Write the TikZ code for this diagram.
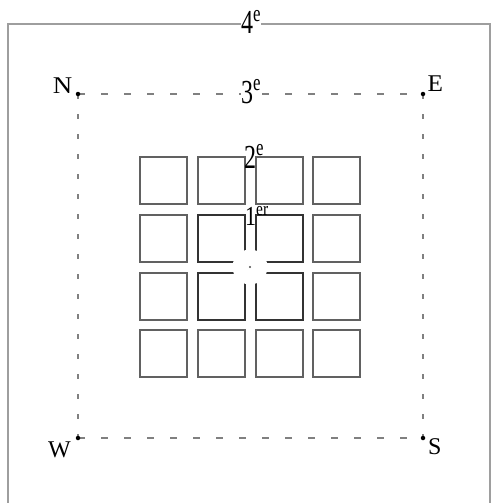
\documentclass[tikz,border=0pt]{standalone}
\usepackage{fontspec}
\setmainfont{Liberation Serif}
\usepackage{graphicx}
\begin{document}
\begin{tikzpicture}[x=1pt,y=-1pt]
\tikzset{
  cell/.style={draw=black!62, line width=1.4pt},
  cellin/.style={draw=black!80, line width=1.4pt},
  frame/.style={draw=black!38, line width=1.4pt},
  hguide/.style={draw=black!50, line width=1.4pt, dash pattern=on 7pt off 16pt},
  vguide/.style={draw=black!50, line width=1.4pt, dash pattern=on 5pt off 15pt},
  pt/.style={circle, fill=black, inner sep=0pt, minimum size=4.5pt},
  ordinal/.style={inner sep=0pt, anchor=base west},
  cornerlbl/.style={inner sep=0pt, font=\fontsize{24}{24}\selectfont}
}
\useasboundingbox (0,0) rectangle (491,503);
\fill[white] (0,0) rectangle (491,503);
% outer frame (open at the bottom)
\coordinate (FL) at (8,503);
\coordinate (FTL) at (8,24);
\coordinate (FTR) at (490,24);
\coordinate (FR) at (490,503);
\draw[frame] (FL) -- (FTL) -- (FTR) -- (FR);
% grid of squares
\foreach \cx in {140,198,256,313}
  \foreach \cy in {157,215,273,330}
    \draw[cell] (\cx,\cy) rectangle +(47,47);
\foreach \cx in {198,256}
  \foreach \cy in {215,273}
    \draw[cellin] (\cx,\cy) rectangle +(47,47);
% central white disc and dot
\coordinate (C) at (250,267);
\fill[white] (C) circle (17.5);
\fill[black!70] (C) circle (1.2);
% dashed square
\coordinate (N) at (78,94);
\coordinate (E) at (423,94);
\coordinate (S) at (423,438);
\coordinate (W) at (78,438);
\draw[hguide] (N) -- (E);
\draw[hguide] (W) -- (S);
\draw[vguide] (N) -- (W);
\draw[vguide] (E) -- (S);
\node[pt] (dN) at (N) {};
\node[pt] (dE) at (E) {};
\node[pt] (dS) at (S) {};
\node[pt] (dW) at (W) {};
% corner labels
\node[cornerlbl, anchor=base east] (lN) at (72.5,93) {\scalebox{1.12}[1]{N}};
\node[cornerlbl, anchor=base west] (lE) at (427.5,92) {\scalebox{1.05}[1]{E}};
\node[cornerlbl, anchor=base east] (lW) at (71,457) {W};
\node[cornerlbl, anchor=base west] (lS) at (428,454) {S};
% ordinal labels
\node[ordinal, fill=white] (l4) at (241,34) {\scalebox{1}[1.4]{\fontsize{24}{24}\selectfont 4\textsuperscript{e}}};
\node[ordinal, fill=white] (l3) at (241,103) {\scalebox{1}[1.4]{\fontsize{24}{24}\selectfont 3\textsuperscript{e}}};
\node[ordinal] (l2) at (244,168) {\scalebox{1}[1.4]{\fontsize{24}{24}\selectfont 2\textsuperscript{e}}};
\node[ordinal] (l1) at (245,225) {\scalebox{1}[1.25]{\fontsize{22}{22}\selectfont 1\textsuperscript{er}}};
\end{tikzpicture}
\end{document}
